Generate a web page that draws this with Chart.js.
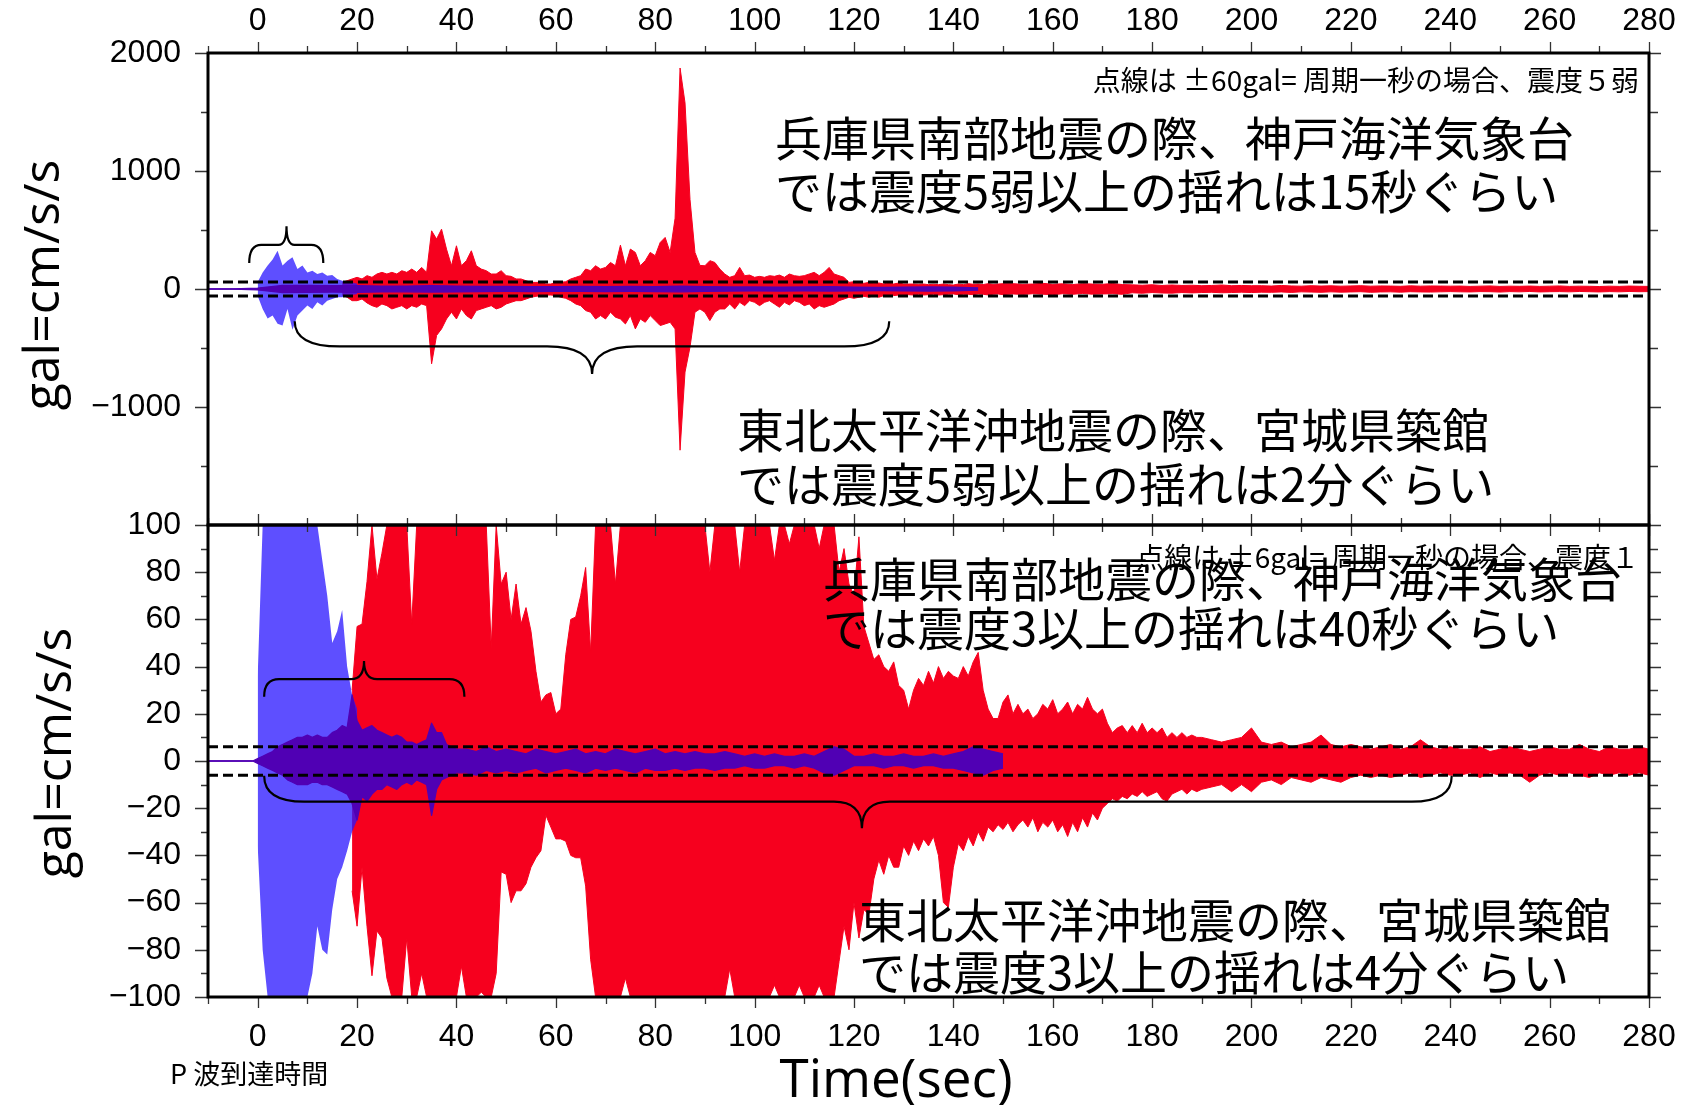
<!DOCTYPE html>
<html>
<head>
<meta charset="utf-8">
<script src="https://cdn.jsdelivr.net/npm/chart.js@4.4.1/dist/chart.umd.min.js"></script>
<style>
  html, body { margin: 0; padding: 0; background: #fff; }
  canvas { display: block; }
</style>
</head>
<body>
<canvas id="quake" width="1687" height="1105"></canvas>
<script>
// Envelope of each trace, one value per sample (gal).
// Kobe (blue) and Tsukidate (red); top panel at full scale, bottom panel zoomed to +-100.

// ---- top panel ----
const topRedStart = 17;            // 1 s samples
const topRedUpper = [
  56, 70, 85, 99, 85, 113, 99, 127, 141, 127,
  141, 127, 155, 141, 169, 141, 183, 141, 493, 423,
  507, 338, 197, 366, 197, 240, 324, 197, 169, 155,
  127, 127, 155, 113, 107, 85, 85, 70, 56, 56,
  56, 42, 42, 56, 56, 62, 85, 99, 113, 169,
  155, 197, 169, 183, 225, 197, 372, 197, 338, 310,
  197, 240, 310, 282, 394, 437, 310, 600, 1873, 1577,
  760, 310, 200, 197, 240, 225, 169, 127, 99, 113,
  183, 113, 118, 99, 107, 99, 113, 107, 118, 99,
  127, 113, 107, 113, 127, 141, 113, 141, 183, 127,
  113, 99, 56, 62, 56, 48, 56, 48, 51, 42,
  56, 42, 51, 42, 42, 42, 40, 42, 37, 40,
  37, 42, 37, 34, 42, 37, 45, 40, 42, 38,
  45, 40, 42, 45
];
const topRedLower = [
  -51, -70, -99, -99, -85, -118, -141, -155, -127, -141,
  -169, -155, -141, -169, -141, -155, -127, -141, -634, -394,
  -338, -254, -197, -254, -169, -225, -254, -183, -169, -155,
  -141, -169, -155, -127, -113, -99, -99, -85, -70, -62,
  -56, -51, -51, -56, -70, -79, -99, -127, -141, -183,
  -197, -254, -225, -254, -197, -239, -254, -296, -225, -338,
  -254, -282, -225, -268, -310, -296, -282, -338, -1366, -704,
  -493, -197, -169, -197, -268, -197, -169, -169, -127, -169,
  -113, -141, -99, -113, -141, -113, -99, -127, -155, -113,
  -135, -99, -113, -141, -127, -169, -141, -155, -141, -127,
  -99, -85, -70, -79, -70, -62, -70, -56, -70, -56,
  -51, -56, -51, -56, -48, -51, -45, -51, -48, -45,
  -51, -48, -45, -42, -48, -45, -45, -48, -42, -45,
  -50, -45, -42, -48
];
const topRedTailStart = 152;       // 2 s samples
const topRedTailUpper = [
  45, 40, 42, 48, 40, 44, 38, 45, 42, 40, 46, 38,
  35, 32, 36, 30, 34, 30, 32, 28, 30, 34, 28, 30, 28,
  28, 25, 30, 26, 24, 28, 25, 27, 24, 26, 28, 24, 26, 25, 23, 27, 24, 26, 25, 24,
  25, 22, 24, 26, 22, 24, 23, 25, 22, 24, 26, 22, 24, 23, 21, 24, 22, 25, 23, 22
];
const topRedTailLower = [
  -42, -46, -40, -44, -48, -40, -45, -38, -44, -42, -40, -45,
  -32, -36, -30, -34, -35, -30, -33, -30, -28, -32, -30, -27, -30,
  -27, -28, -25, -29, -24, -26, -28, -24, -27, -25, -23, -28, -25, -24, -27, -23, -25, -26, -24, -22,
  -24, -25, -22, -23, -26, -22, -24, -21, -25, -23, -22, -24, -21, -23, -25, -22, -24, -21, -23, -22
];
const topBlueStart = 0;            // 1 s samples
const topBlueUpper = [60, 140, 200, 250, 324, 200, 240, 270, 170, 200, 140, 155, 127, 140, 113, 118, 85, 70, 56, 56, 45];
const topBlueLower = [-60, -170, -250, -225, -295, -310, -170, -346, -225, -183, -140, -170, -113, -140, -100, -85, -70, -70, -56, -50, -42];
const topCoreStart = -10;          // 5 s samples
const topCoreUpper = [
  0, 0, 8, 30, 30, 28, 28, 25, 25, 28,
  25, 22, 22, 20, 20, 22, 20, 22, 20, 25,
  20, 18, 18, 16, 18, 20, 15, 14, 15, 18,
  16, 10
];
const topCoreLower = [
  0, 0, -8, -30, -28, -26, -28, -25, -24, -26,
  -25, -22, -20, -22, -20, -20, -22, -20, -22, -24,
  -20, -18, -16, -18, -16, -18, -15, -14, -16, -18,
  -15, -10
];

// ---- bottom panel (values beyond +-100 are off the plot, read as 100) ----
const botRedStart = 19;            // 1 s samples
const botRedUpper = [
  30, 57, 58, 76, 100, 77, 88, 100, 100, 100,
  100, 100, 58, 100, 100, 100, 100, 100, 100, 100,
  100, 100, 100, 100, 100, 100, 100, 100, 48, 100,
  75, 80, 60, 75, 58, 65, 55, 38, 25, 28,
  29, 20, 22, 45, 60, 61, 70, 82, 46, 100,
  100, 100, 100, 75, 100, 100, 100, 100, 100, 100,
  100, 100, 100, 100, 100, 100, 100, 100, 100, 100,
  100, 100, 80, 100, 100, 100, 100, 100, 80, 100,
  100, 100, 100, 100, 100, 85, 100, 100, 92, 100,
  100, 100, 100, 100, 90, 100, 100, 100, 80, 90,
  75, 70, 95, 57, 50, 43, 45, 40, 38, 42,
  32, 30, 22, 30, 35, 32, 38, 33, 40, 35,
  38, 36, 35, 40, 36, 42, 46, 30, 22, 18,
  18, 25, 28, 20, 24, 20, 22, 18, 20, 24,
  22, 26, 20, 22, 25, 20, 24, 22, 27, 22,
  20, 22, 16, 12, 14, 15, 12, 15, 12, 16,
  12, 14, 12, 14, 10, 12, 10, 12, 10, 11,
  10, 10
];
const botRedLower = [
  -55, -70, -45, -70, -91, -72, -75, -92, -100, -100,
  -100, -75, -100, -100, -90, -100, -100, -100, -100, -100,
  -100, -100, -87, -100, -100, -100, -98, -100, -100, -90,
  -47, -48, -60, -55, -55, -52, -45, -41, -38, -23,
  -28, -33, -33, -34, -40, -41, -41, -53, -84, -100,
  -100, -100, -100, -100, -100, -92, -100, -100, -100, -100,
  -100, -100, -100, -100, -100, -100, -100, -100, -100, -100,
  -100, -100, -100, -100, -100, -100, -88, -100, -100, -100,
  -100, -100, -100, -100, -100, -95, -100, -100, -100, -100,
  -95, -100, -100, -100, -95, -100, -100, -100, -85, -70,
  -80, -60, -75, -63, -65, -50, -42, -48, -40, -45,
  -45, -36, -40, -34, -38, -33, -36, -32, -40, -60,
  -62, -45, -35, -38, -32, -36, -30, -34, -28, -30,
  -27, -29, -26, -30, -27, -25, -28, -24, -30, -26,
  -28, -25, -30, -27, -32, -26, -30, -24, -28, -22,
  -25, -20, -18, -16, -17, -15, -16, -14, -15, -13,
  -15, -14, -13, -16, -17, -14, -13, -12, -14, -12,
  -13, -12
];
const botRedTailStart = 192;       // 2 s samples
const botRedTailUpper = [
  9, 8, 9, 10, 14, 8, 7, 8, 6, 7,
  8, 11, 7, 6, 7, 6, 5, 6, 7, 5,
  6, 9, 6, 5, 6, 5, 5, 6, 4, 5,
  6, 5, 4, 5, 6, 5, 5, 7, 5, 4,
  6, 5, 5, 6, 5
];
const botRedTailLower = [
  -11, -10, -13, -10, -13, -9, -8, -10, -7, -8,
  -9, -7, -8, -9, -7, -6, -7, -6, -7, -6,
  -5, -7, -6, -5, -6, -6, -5, -7, -5, -6,
  -5, -6, -9, -6, -5, -6, -5, -6, -7, -5,
  -6, -5, -6, -5, -6
];
const botBlueStart = 0;            // 1 s samples
const botBlueUpper = [36, 100, 100, 100, 100, 100, 100, 100, 100, 100, 100, 100, 100, 85, 70, 50, 55, 64, 40, 28, 22];
const botBlueLower = [-36, -80, -100, -100, -100, -100, -100, -100, -100, -100, -100, -90, -70, -80, -82, -63, -50, -45, -38, -30, -25];
const botCoreStart = -10;          // 1 s samples
const botCoreUpper = [
  0, 0, 0, 0, 0, 0, 0, 0, 0, 0,
  1, 2, 3, 4, 6, 7, 8, 9, 10, 10,
  11, 10, 11, 10, 10, 12, 13, 15, 14, 28,
  17, 13, 14, 15, 13, 12, 11, 10, 11, 10,
  8, 8, 7, 8, 9, 16, 12, 12, 7, 6,
  5
];
const botCoreLower = [
  0, 0, 0, 0, 0, 0, 0, 0, 0, 0,
  -1, -2, -3, -4, -5, -6, -8, -9, -10, -10,
  -10, -9, -9, -10, -10, -11, -12, -13, -14, -18,
  -25, -15, -17, -14, -12, -12, -10, -11, -12, -10,
  -9, -10, -8, -9, -10, -23, -12, -8, -7, -6,
  -5
];
const botCoreTailStart = 42;       // 2 s samples
const botCoreTailUpper = [
  5, 4, 6, 4, 5, 4, 3, 5, 4, 3,
  4, 5, 3, 4, 3, 5, 4, 3, 4, 5,
  3, 4, 3, 4, 3, 3, 4, 3, 2, 3,
  2, 3, 2, 2, 3, 2, 4, 6, 5, 2,
  2, 3, 2, 2, 3, 2, 2, 3, 2, 3,
  4, 6, 5, 4, 3
];
const botCoreTailLower = [
  -5, -6, -4, -5, -4, -5, -4, -3, -5, -4,
  -3, -4, -5, -3, -4, -3, -4, -5, -3, -4,
  -4, -3, -4, -3, -3, -4, -3, -3, -2, -3,
  -3, -2, -2, -3, -2, -3, -5, -6, -4, -2,
  -2, -2, -3, -2, -2, -3, -2, -2, -3, -3,
  -4, -5, -6, -4, -3
];

const xTicks = { min: -10, max: 280, step: 20 };
const dashedLevels = { top: 60, bottom: 6 };

const RED = '#f6001e';
const BLUE = 'rgba(40, 20, 255, 0.75)';
const CORE = '#5000b4';
const CLEAR = 'rgba(0,0,0,0)';

function samples(start, step, values) {
  return values.map((v, i) => ({ x: start + i * step, y: v }));
}

function band(upper, lower, yAxisID, line, fill, width, order) {
  const common = { xAxisID: 'x', yAxisID, borderColor: line, backgroundColor: fill,
                   borderWidth: width, pointRadius: 0, tension: 0, order };
  return [
    Object.assign({ data: upper, fill: '+1' }, common),
    Object.assign({ data: lower, fill: false }, common)
  ];
}

const datasets = [
  ...band(samples(topRedStart, 1, topRedUpper).concat(samples(topRedTailStart, 2, topRedTailUpper)),
          samples(topRedStart, 1, topRedLower).concat(samples(topRedTailStart, 2, topRedTailLower)),
          'yTop', RED, RED, 1, 3),
  ...band(samples(topBlueStart, 1, topBlueUpper), samples(topBlueStart, 1, topBlueLower),
          'yTop', CLEAR, BLUE, 1, 2),
  ...band(samples(topCoreStart, 5, topCoreUpper), samples(topCoreStart, 5, topCoreLower),
          'yTop', CORE, CORE, 1.3, 1),
  ...band(samples(botRedStart, 1, botRedUpper).concat(samples(botRedTailStart, 2, botRedTailUpper)),
          samples(botRedStart, 1, botRedLower).concat(samples(botRedTailStart, 2, botRedTailLower)),
          'yBot', RED, RED, 1, 3),
  ...band(samples(botBlueStart, 1, botBlueUpper), samples(botBlueStart, 1, botBlueLower),
          'yBot', CLEAR, BLUE, 1, 2),
  ...band(samples(botCoreStart, 1, botCoreUpper).concat(samples(botCoreTailStart, 2, botCoreTailUpper)),
          samples(botCoreStart, 1, botCoreLower).concat(samples(botCoreTailStart, 2, botCoreTailLower)),
          'yBot', CORE, CORE, 1.3, 1)
];

// braces, in data units; rx / rt are the curl widths in pixels
const braces = [
  { axis: 'yTop', t1: -1.7, t2: 13.2, tip: 5.8, yEnd: 220, yBar: 374, yTip: 532, rx: 12, rt: 8 },
  { axis: 'yTop', t1: 7.45, t2: 127.1, tip: 67.3, yEnd: -273, yBar: -487, yTip: -720, rx: 45, rt: 45 },
  { axis: 'yBot', t1: 1.3, t2: 41.6, tip: 21.4, yEnd: 27.2, yBar: 34.7, yTip: 42.4, rx: 15, rt: 13 },
  { axis: 'yBot', t1: 1.3, t2: 240.3, tip: 121.6, yEnd: -6.2, yBar: -17.2, yTip: -28.5, rx: 40, rt: 28 }
];

const JP = '"Noto Sans CJK JP", "Noto Sans", sans-serif';
const texts = [
  { s: '点線は ±60gal= 周期一秒の場合、震度５弱', x: 1639, y: 80, size: 28, align: 'right' },
  { s: '兵庫県南部地震の際、神戸海洋気象台', x: 775, y: 138, size: 47 },
  { s: 'では震度5弱以上の揺れは15秒ぐらい', x: 775, y: 191, size: 47 },
  { s: '東北太平洋沖地震の際、宮城県築館', x: 737, y: 430, size: 47 },
  { s: 'では震度5弱以上の揺れは2分ぐらい', x: 737, y: 484, size: 47 },
  { s: '点線は ±6gal= 周期一秒の場合、震度１', x: 1639, y: 557, size: 28, align: 'right' },
  { s: '兵庫県南部地震の際、神戸海洋気象台', x: 823, y: 579, size: 47 },
  { s: 'では震度3以上の揺れは40秒ぐらい', x: 823, y: 628, size: 47 },
  { s: '東北太平洋沖地震の際、宮城県築館', x: 859, y: 920, size: 47 },
  { s: 'では震度3以上の揺れは4分ぐらい', x: 859, y: 972, size: 47 },
  { s: 'P 波到達時間', x: 170, y: 1074, size: 27 }
];

function minus(v) {
  return v < 0 ? '\u2212' + Math.abs(v) : String(v);
}

function drawBrace(ctx, x, y, b) {
  const xl = x.getPixelForValue(b.t1), xr = x.getPixelForValue(b.t2), xt = x.getPixelForValue(b.tip);
  const ye = y.getPixelForValue(b.yEnd), yb = y.getPixelForValue(b.yBar), yt = y.getPixelForValue(b.yTip);
  ctx.beginPath();
  ctx.moveTo(xl, ye);
  ctx.quadraticCurveTo(xl, yb, xl + b.rx, yb);
  ctx.lineTo(xt - b.rt, yb);
  ctx.quadraticCurveTo(xt, yb, xt, yt);
  ctx.quadraticCurveTo(xt, yb, xt + b.rt, yb);
  ctx.lineTo(xr - b.rx, yb);
  ctx.quadraticCurveTo(xr, yb, xr, ye);
  ctx.stroke();
}

const overlay = {
  id: 'overlay',
  afterDatasetsDraw(chart) {
    const ctx = chart.ctx;
    const area = chart.chartArea;
    const x = chart.scales.x, yT = chart.scales.yTop, yB = chart.scales.yBot;
    ctx.save();

    // dashed reference levels
    ctx.strokeStyle = '#000';
    ctx.lineWidth = 3;
    ctx.setLineDash([10, 5]);
    ctx.beginPath();
    [[yT, dashedLevels.top], [yB, dashedLevels.bottom]].forEach(([s, lv]) => {
      [lv, -lv].forEach(v => {
        const py = s.getPixelForValue(v);
        ctx.moveTo(area.left, py);
        ctx.lineTo(area.right, py);
      });
    });
    ctx.stroke();
    ctx.setLineDash([]);

    // braces
    ctx.lineWidth = 2.2;
    braces.forEach(b => drawBrace(ctx, x, chart.scales[b.axis], b));

    // tick marks
    ctx.strokeStyle = '#333';
    ctx.lineWidth = 1.3;
    ctx.beginPath();
    for (let t = xTicks.min; t <= xTicks.max; t += 10) {
      const px = Math.round(x.getPixelForValue(t)) + 0.5;
      const len = t % 20 === 0 ? 11 : 7;
      ctx.moveTo(px, area.top); ctx.lineTo(px, area.top - len);
      ctx.moveTo(px, yB.top - len); ctx.lineTo(px, yB.top + len);
      ctx.moveTo(px, area.bottom); ctx.lineTo(px, area.bottom + len);
    }
    [[yT, 500, 1000], [yB, 10, 20]].forEach(([s, minor, major]) => {
      for (let v = s.min; v <= s.max; v += minor) {
        const py = Math.round(s.getPixelForValue(v)) + 0.5;
        const isMajor = v % major === 0;
        ctx.moveTo(area.left, py); ctx.lineTo(area.left - (isMajor ? 13 : 7), py);
        ctx.moveTo(area.right, py); ctx.lineTo(area.right + (isMajor ? 12 : 9), py);
      }
    });
    ctx.stroke();

    // panel frames
    ctx.strokeStyle = '#000';
    ctx.lineWidth = 3;
    ctx.strokeRect(area.left, yT.top, area.right - area.left, yT.bottom - yT.top);
    ctx.strokeRect(area.left, yB.top, area.right - area.left, yB.bottom - yB.top);

    // annotation texts
    ctx.fillStyle = '#000';
    ctx.textBaseline = 'middle';
    texts.forEach(t => {
      ctx.font = t.size + 'px ' + JP;
      ctx.textAlign = t.align || 'left';
      ctx.fillText(t.s, t.x, t.y);
    });

    // axis titles
    ctx.font = '50px "Open Sans", sans-serif';
    ctx.textAlign = 'center';
    [[45, (yT.top + yT.bottom) / 2 - 4], [57, (yB.top + yB.bottom) / 2 - 8]].forEach(([cx, cy]) => {
      ctx.save();
      ctx.translate(cx, cy);
      ctx.rotate(-Math.PI / 2);
      ctx.fillText('gal=cm/s/s', 0, 0);
      ctx.restore();
    });
    ctx.font = '53px "Open Sans", sans-serif';
    ctx.textBaseline = 'alphabetic';
    ctx.fillText('Time(sec)', 896, 1097);

    ctx.restore();
  }
};

const tickFont = { family: '"Liberation Sans", Arial, sans-serif', size: 32 };

function xAxis(position, padding, height) {
  return {
    type: 'linear', position, min: xTicks.min, max: xTicks.max,
    ticks: { stepSize: xTicks.step, includeBounds: false, padding, font: tickFont, color: '#000',
             maxRotation: 0, autoSkip: false },
    grid: { display: false, drawTicks: false },
    border: { display: false },
    afterFit: s => { s.height = height; s.paddingLeft = 0; s.paddingRight = 0; }
  };
}

function yAxis(min, max, step, hide) {
  return {
    type: 'linear', position: 'left', stack: 'panels', stackWeight: 1, min, max,
    ticks: { stepSize: step, padding: 27, font: tickFont, color: '#000', autoSkip: false,
             callback: v => (v === hide ? '' : minus(v)) },
    grid: { display: false, drawTicks: false },
    border: { display: false },
    afterFit: s => { s.width = 208; s.paddingTop = 0; s.paddingBottom = 0; }
  };
}

new Chart(document.getElementById('quake'), {
  type: 'line',
  data: { datasets },
  options: {
    responsive: false,
    animation: false,
    devicePixelRatio: 1,
    layout: { padding: { left: 0, right: 38, top: 0, bottom: 0 } },
    plugins: { legend: { display: false }, tooltip: { enabled: false } },
    elements: { line: { borderJoinStyle: 'round' } },
    scales: {
      xTop: xAxis('top', 13, 53),
      x: xAxis('bottom', 21, 108),
      yBot: yAxis(-100, 100, 20, null),
      yTop: yAxis(-2000, 2000, 1000, -2000)
    }
  },
  plugins: [overlay]
});
</script>
</body>
</html>
